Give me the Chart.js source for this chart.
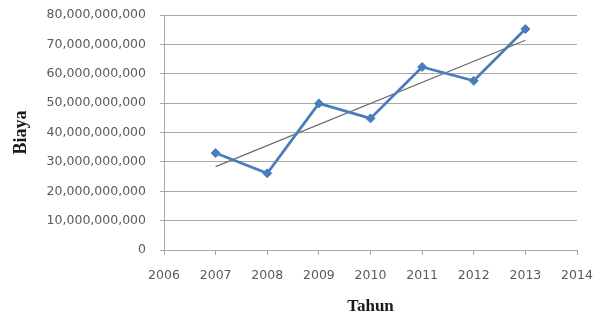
<!DOCTYPE html>
<html>
<head>
<meta charset="utf-8">
<script src="https://cdn.jsdelivr.net/npm/chart.js@4/dist/chart.umd.min.js"></script>
<style>
  html, body { margin: 0; padding: 0; background: #ffffff; }
  #wrap { width: 600px; height: 320px; position: relative; }
</style>
</head>
<body>
<div id="wrap"><canvas id="chart" width="600" height="320"></canvas></div>
<script>
// Biaya per tahun
const years = [2007, 2008, 2009, 2010, 2011, 2012, 2013];
const biaya = [33000000000, 26100000000, 49900000000, 44800000000, 62300000000, 57600000000, 75200000000];

// Garis tren linear (titik awal dan akhir)
const trendYears = [2007, 2013];
const trendValues = [28400000000, 71400000000];

// Rentang sumbu
const xMin = 2006, xMax = 2014, xStep = 1;
const yMin = 0, yMax = 80000000000, yStep = 10000000000;

const tickFont = { family: 'DejaVu Sans', size: 12.5 };
const tickColor = '#5a5a5a';
const gridColor = '#a8a8a8';

new Chart(document.getElementById('chart'), {
  type: 'line',
  data: {
    datasets: [
      {
        label: 'Biaya',
        data: years.map((x, i) => ({ x: x, y: biaya[i] })),
        borderColor: '#4a7ebb',
        backgroundColor: '#4a7ebb',
        borderWidth: 2.8,
        pointStyle: 'rectRot',
        pointRadius: 4.5,
        pointBorderWidth: 1,
        tension: 0
      },
      {
        label: 'Tren',
        data: trendYears.map((x, i) => ({ x: x, y: trendValues[i] })),
        borderColor: '#6a6a6a',
        borderWidth: 1.2,
        pointRadius: 0,
        tension: 0
      }
    ]
  },
  options: {
    responsive: false,
    animation: false,
    devicePixelRatio: 1,
    layout: { padding: { top: 15, right: 23, bottom: 0, left: 0 } },
    plugins: { legend: { display: false }, tooltip: { enabled: false } },
    scales: {
      x: {
        type: 'linear',
        min: xMin,
        max: xMax,
        afterFit: s => { s.height = 70; s.paddingLeft = 0; s.paddingRight = 0; },
        ticks: {
          stepSize: xStep,
          font: tickFont,
          color: tickColor,
          padding: 13,
          maxRotation: 0,
          callback: v => String(v)
        },
        grid: {
          drawOnChartArea: false,
          drawTicks: true,
          tickLength: 5,
          color: gridColor
        },
        border: { color: gridColor, width: 1 },
        title: {
          display: true,
          text: 'Tahun',
          color: '#1a1a1a',
          font: { family: 'Liberation Serif', size: 17, weight: 'bold' },
          padding: { top: 0, bottom: 3 }
        }
      },
      y: {
        min: yMin,
        max: yMax,
        afterFit: s => { s.width = 164; s.paddingTop = 0; s.paddingBottom = 0; },
        ticks: {
          stepSize: yStep,
          font: tickFont,
          color: tickColor,
          padding: 14,
          callback: v => Number(v).toLocaleString('en-US')
        },
        grid: {
          color: gridColor,
          tickLength: 4,
          drawTicks: true
        },
        border: { color: gridColor, width: 1 },
        title: {
          display: true,
          text: 'Biaya',
          color: '#1a1a1a',
          font: { family: 'Liberation Serif', size: 18, weight: 'bold' },
          padding: { top: 11, bottom: 0 }
        }
      }
    }
  }
});
</script>
</body>
</html>
